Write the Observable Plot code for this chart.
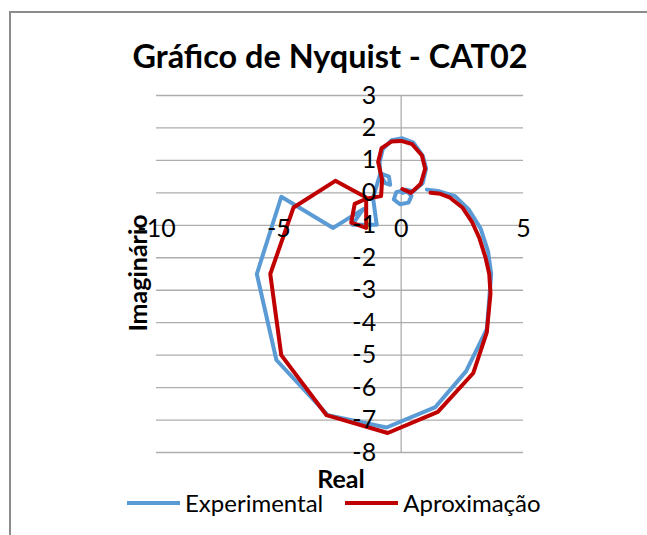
<!DOCTYPE html>
<html><head><meta charset="utf-8">
<script src="https://cdn.jsdelivr.net/npm/d3@7"></script>
<script src="https://cdn.jsdelivr.net/npm/@observablehq/plot@0.6"></script>
<style>
html,body{margin:0;background:#fff;overflow:hidden;}
#wrap{position:relative;width:647px;height:535px;overflow:hidden;font-family:Lato,"Open Sans",sans-serif;background:#fff;}
#btop{position:absolute;left:9px;top:11px;width:638px;height:1.5px;background:#8c8c8c;}
#bleft{position:absolute;left:9px;top:11px;width:1.5px;height:524px;background:#8c8c8c;}
#chart{position:absolute;left:0;top:0;}
.t{position:absolute;white-space:nowrap;color:#000;line-height:1;transform:translate(-50%,-50%);}
.leg{position:absolute;display:flex;align-items:center;line-height:1;font-size:24px;color:#000;}
.sw{display:inline-block;width:53px;height:4px;margin-right:5px;}
</style></head><body>
<div id="wrap">
  <div id="btop"></div>
  <div id="bleft"></div>
  <div id="chart"></div>
  <div class="t" id="title" style="left:330px;top:56px;font-size:32.4px;font-weight:bold;">Gráfico de Nyquist - CAT02</div>
  <div class="t" id="ytitle" style="left:137px;top:273px;font-size:25px;font-weight:bold;transform:translate(-50%,-50%) rotate(-90deg);">Imaginário</div>
  <div class="t" id="xtitle" style="left:341px;top:478px;font-size:25px;font-weight:bold;">Real</div>
  <div class="leg" id="legend" style="left:127px;top:491px;"></div>
</div>
<script>
// Data
const expReal = [1.05, 1.5, 2.2, 2.75, 3.25, 3.55, 3.68, 3.5, 2.65, 1.4, -0.6, -3.0, -5.1, -5.9, -4.9, -2.78, -1.55, -2.0, -1.0, -1.15, -0.85, -0.5, -0.45, -0.65, -0.85, -0.88, -0.75, -0.4, 0.05, 0.5, 0.88, 1.02, 0.88, 0.5, 0.2, -0.2, -0.3, -0.05, 0.3, 0.42, 0.25, 0.05];
const expImag = [0.1, 0.06, -0.1, -0.5, -1.1, -1.8, -2.5, -4.2, -5.5, -6.6, -7.23, -6.85, -5.15, -2.5, -0.12, -1.08, -0.5, -0.98, -0.98, -0.15, 0.6, 0.5, 0.25, 0.3, 0.55, 0.95, 1.35, 1.62, 1.68, 1.55, 1.15, 0.75, 0.3, 0.05, 0.1, 0.02, -0.2, -0.35, -0.3, -0.1, 0.05, 0.0];
const aproxReal = [0.05, 0.4, 0.8, 0.98, 0.85, 0.45, 0.0, -0.4, -0.8, -0.94, -0.78, -0.82, -1.43, -1.9, -2.04, -1.43, -1.43, -2.69, -4.4, -5.35, -4.9, -3.05, -0.55, 1.5, 2.95, 3.5, 3.65, 3.6, 3.45, 3.2, 2.9, 2.5, 2.0, 1.6, 1.2];
const aproxImag = [0.12, 0.0, 0.28, 0.74, 1.15, 1.5, 1.6, 1.58, 1.38, 0.95, 0.4, -0.1, -0.18, -0.34, -0.92, -1.08, -0.14, 0.37, -0.45, -2.5, -5.0, -6.85, -7.4, -6.75, -5.55, -4.3, -3.1, -2.5, -2.0, -1.4, -0.9, -0.45, -0.15, -0.03, 0.0];
const xTicks = [-10, -5, 0, 5];
const yTicks = [3, 2, 1, 0, -1, -2, -3, -4, -5, -6, -7, -8];
const seriesNames = ["Experimental", "Aproximação"];
const seriesColors = ["#5B9BD5", "#C00000"];

const expData = expReal.map((x, i) => ({x, y: expImag[i]}));
const aproxData = aproxReal.map((x, i) => ({x, y: aproxImag[i]}));

const font = 'Lato, "Open Sans", sans-serif';
const chart = Plot.plot({
  width: 647, height: 535,
  marginLeft: 156, marginRight: 124, marginTop: 95, marginBottom: 83,
  x: {domain: [-10, 5], axis: null},
  y: {domain: [-8, 3], axis: null},
  style: {fontFamily: font, background: "transparent"},
  marks: [
    Plot.ruleY(yTicks, {x1: -10, x2: 5, stroke: "#adadad", strokeWidth: 1.3}),
    Plot.ruleX([0], {y1: -8, y2: 3, stroke: "#adadad", strokeWidth: 1.3}),
    Plot.line(expData, {x: "x", y: "y", stroke: seriesColors[0], strokeWidth: 4, strokeLinejoin: "round", curve: "linear"}),
    Plot.line(aproxData, {x: "x", y: "y", stroke: seriesColors[1], strokeWidth: 4, strokeLinejoin: "round", curve: "linear"}),
    Plot.text(yTicks, {x: 0, y: d => d, text: d => String(d), textAnchor: "end", dx: -25, fontSize: 25, fill: "#000"}),
    Plot.text(xTicks, {x: d => d, y: 0, text: d => String(d), textAnchor: "middle", dy: 36, fontSize: 25, fill: "#000"})
  ]
});
document.getElementById("chart").appendChild(chart);

const leg = document.getElementById("legend");
seriesNames.forEach((n, i) => {
  const item = document.createElement("span");
  item.style.display = "inline-flex";
  item.style.alignItems = "center";
  item.style.marginRight = i === 0 ? "22px" : "0";
  const sw = document.createElement("span");
  sw.className = "sw";
  sw.style.background = seriesColors[i];
  const tx = document.createElement("span");
  tx.textContent = n;
  item.appendChild(sw); item.appendChild(tx);
  leg.appendChild(item);
});
</script>
</body></html>
